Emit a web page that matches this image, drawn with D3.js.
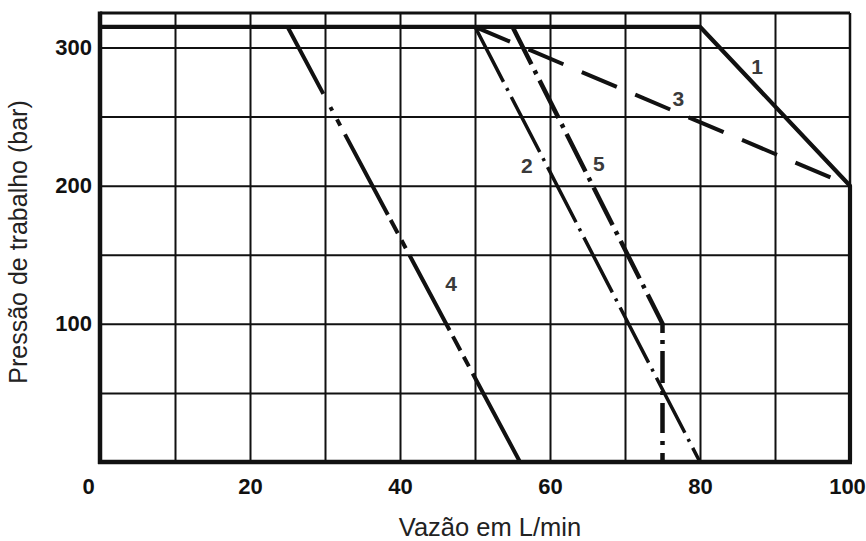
<!DOCTYPE html>
<html>
<head>
<meta charset="utf-8">
<script src="https://cdn.jsdelivr.net/npm/d3@7"></script>
<style>
    html, body { margin: 0; padding: 0; background: #fff; }
    svg text { font-family: "Liberation Sans", Arial, sans-serif; }
</style>
</head>
<body>
<div id="chart"></div>
<script>
// Flow (L/min) and working pressure (bar) for each curve
var flowTicks = [0, 20, 40, 60, 80, 100];
var pressureTicks = [100, 200, 300];
var flowGrid = [10, 20, 30, 40, 50, 60, 70, 80, 90];
var pressureGrid = [50, 100, 150, 200, 250, 300];

var curveIds = ["1", "2", "3", "4", "5"];
var curve1Flow = [0, 80, 100, 100];
var curve1Pressure = [315, 315, 200, 0];
var curve2Flow = [50, 80];
var curve2Pressure = [315, 0];
var curve3Flow = [50, 100];
var curve3Pressure = [315, 200];
var curve4Flow = [25, 56];
var curve4Pressure = [315, 0];
var curve5Flow = [55, 75, 75];
var curve5Pressure = [315, 100, 0];

// where the curve numbers sit (data coordinates)
var labelFlow = [87.6, 56.9, 77.1, 46.8, 66.5];
var labelPressure = [286, 215, 263, 129, 216];

var width = 866, height = 541;
var margin = {top: 13, right: 16, bottom: 79, left: 100};

var x = d3.scaleLinear().domain([0, 100]).range([margin.left, width - margin.right]);
var y = d3.scaleLinear().domain([0, 325]).range([height - margin.bottom, margin.top]);

var svg = d3.select("#chart").append("svg")
    .attr("width", width)
    .attr("height", height);

//Grid lines
svg.append("g")
    .attr("class", "grid-x")
    .attr("transform", "translate(0," + y(0) + ")")
    .call(d3.axisBottom(x).tickValues(flowGrid).tickSize(-(y(0) - y(325))).tickFormat(""))
    .call(function(g) { g.select(".domain").remove(); })
    .selectAll("line")
    .attr("stroke", "#111")
    .attr("stroke-width", 2);

svg.append("g")
    .attr("class", "grid-y")
    .attr("transform", "translate(" + x(0) + ",0)")
    .call(d3.axisLeft(y).tickValues(pressureGrid).tickSize(-(x(100) - x(0))).tickFormat(""))
    .call(function(g) { g.select(".domain").remove(); })
    .selectAll("line")
    .attr("stroke", "#111")
    .attr("stroke-width", 2);

//Frame: thin top/right, heavy left/bottom
var frame = svg.append("g").attr("stroke", "#111").attr("fill", "none");
frame.append("line")
    .attr("x1", x(0)).attr("x2", x(100)).attr("y1", y(325)).attr("y2", y(325))
    .attr("stroke-width", 3);
frame.append("line")
    .attr("x1", x(100)).attr("x2", x(100)).attr("y1", y(325)).attr("y2", y(0))
    .attr("stroke-width", 2.5);
frame.append("line")
    .attr("x1", x(0)).attr("x2", x(0)).attr("y1", y(325) - 1.5).attr("y2", y(0) + 2)
    .attr("stroke-width", 4.5);
frame.append("line")
    .attr("x1", x(0) - 2).attr("x2", x(100) + 2).attr("y1", y(0)).attr("y2", y(0))
    .attr("stroke-width", 4.5);

//Tick labels
var xAxis = svg.append("g")
    .attr("transform", "translate(0," + y(0) + ")")
    .call(d3.axisBottom(x).tickValues(flowTicks).tickSize(0).tickPadding(16));
xAxis.select(".domain").remove();
xAxis.selectAll("text")
    .attr("fill", "#111")
    .style("font-size", "22px")
    .style("font-weight", "bold")
    .attr("dx", function(d) { return d === 0 ? -12 : (d === 100 ? -3 : 0); });

var yAxis = svg.append("g")
    .attr("transform", "translate(" + x(0) + ",0)")
    .call(d3.axisLeft(y).tickValues(pressureTicks).tickSize(0).tickPadding(8));
yAxis.select(".domain").remove();
yAxis.selectAll("text")
    .attr("fill", "#111")
    .style("font-size", "22px")
    .style("font-weight", "bold");

//Axis titles
svg.append("text")
    .attr("x", 490)
    .attr("y", 536)
    .style("text-anchor", "middle")
    .style("font-size", "25.5px")
    .attr("fill", "#222")
    .text("Vazão em L/min");

svg.append("text")
    .attr("transform", "translate(27,242) rotate(-90)")
    .style("text-anchor", "middle")
    .style("font-size", "25px")
    .attr("fill", "#222")
    .text("Pressão de trabalho (bar)");

//Curves
var curves = [
    {id: curveIds[0], flow: curve1Flow, pressure: curve1Pressure},
    {id: curveIds[1], flow: curve2Flow, pressure: curve2Pressure},
    {id: curveIds[2], flow: curve3Flow, pressure: curve3Pressure},
    {id: curveIds[3], flow: curve4Flow, pressure: curve4Pressure},
    {id: curveIds[4], flow: curve5Flow, pressure: curve5Pressure}
];

var curveStyle = {
    "1": {width: 4.2, dash: null},
    "2": {width: 3.5, dash: "62,7,3,7"},
    "3": {width: 4, dash: "38,20"},
    "4": {width: 4, dash: "76,15,4,10,7,10,91,6,15,8,9,8,85,7,16,7,11,8,200,0"},
    "5": {width: 4.5, dash: "42,7,4,7,42,7,4,7,42,7,4,7,42,7,4,7,42,7,4,7,42,7,4,7,32,8,4,8,30,8,4,8,40,0"}
};

var line = d3.line()
    .x(function(d) { return x(d[0]); })
    .y(function(d) { return y(d[1]); });

svg.append("g")
    .attr("class", "curves")
    .selectAll("path")
    .data(curves)
    .enter().append("path")
    .attr("fill", "none")
    .attr("stroke", "#111")
    .attr("stroke-linejoin", "round")
    .attr("stroke-width", function(d) { return curveStyle[d.id].width; })
    .attr("stroke-dasharray", function(d) { return curveStyle[d.id].dash; })
    .attr("d", function(d) {
        return line(d.flow.map(function(f, i) { return [f, d.pressure[i]]; }));
    });

//Curve numbers
svg.append("g")
    .selectAll("text")
    .data(curveIds)
    .enter().append("text")
    .attr("x", function(d, i) { return x(labelFlow[i]); })
    .attr("y", function(d, i) { return y(labelPressure[i]); })
    .attr("dy", "0.36em")
    .style("text-anchor", "middle")
    .style("font-size", "21px")
    .style("font-weight", "bold")
    .attr("fill", "#3a3a3a")
    .text(function(d) { return d; });
</script>
</body>
</html>
